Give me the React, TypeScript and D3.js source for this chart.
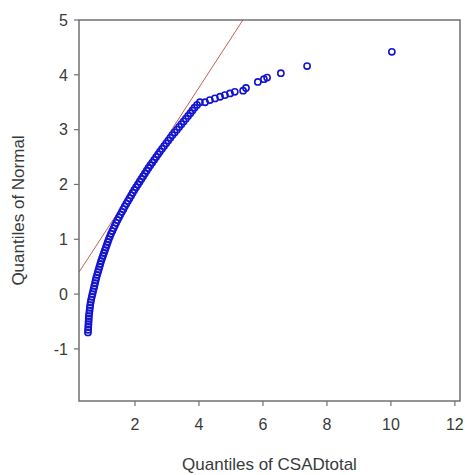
import React from "react";
import * as d3 from "d3";

// Quantiles of Normal (y) vs quantiles of CSADtotal (x)
const qNormal: number[] = [
  -0.7, -0.65, -0.6, -0.55, -0.5, -0.45, -0.4, -0.35, -0.3, -0.25, -0.2, -0.15, -0.1, -0.05,
  0.0, 0.05, 0.1, 0.15, 0.2, 0.25, 0.3, 0.35, 0.4, 0.45, 0.5, 0.55, 0.6, 0.65, 0.7, 0.75,
  0.8, 0.85, 0.9, 0.95, 1.0, 1.05, 1.1, 1.15, 1.2, 1.25, 1.3, 1.35, 1.4, 1.45, 1.5, 1.55,
  1.6, 1.65, 1.7, 1.75, 1.8, 1.85, 1.9, 1.95, 2.0, 2.05, 2.1, 2.15, 2.2, 2.25, 2.3, 2.35,
  2.4, 2.45, 2.5, 2.55, 2.6, 2.65, 2.7, 2.75, 2.8, 2.85, 2.9, 2.95, 3.0, 3.05, 3.1, 3.15,
  3.2, 3.25, 3.3, 3.35, 3.4, 3.45, 3.5,
  3.5, 3.54, 3.57, 3.6, 3.63, 3.66, 3.69, 3.71, 3.76, 3.87, 3.92, 3.95, 4.03, 4.16, 4.42,
];
const qCSAD: number[] = [
  0.53, 0.535, 0.54, 0.545, 0.55, 0.555, 0.56, 0.57, 0.58, 0.59, 0.6, 0.615, 0.63, 0.65,
  0.67, 0.69, 0.71, 0.73, 0.75, 0.77, 0.79, 0.815, 0.84, 0.865, 0.89, 0.915, 0.94, 0.97, 1.0, 1.03,
  1.06, 1.09, 1.12, 1.15, 1.18, 1.215, 1.25, 1.29, 1.33, 1.37, 1.41, 1.455, 1.5, 1.545, 1.59, 1.635,
  1.68, 1.73, 1.78, 1.83, 1.88, 1.93, 1.98, 2.035, 2.09, 2.145, 2.2, 2.255, 2.31, 2.365, 2.42, 2.48,
  2.54, 2.6, 2.66, 2.72, 2.78, 2.845, 2.91, 2.975, 3.04, 3.105, 3.17, 3.24, 3.31, 3.38, 3.45, 3.52,
  3.59, 3.66, 3.73, 3.795, 3.86, 3.94, 4.03,
  4.19, 4.34, 4.5, 4.66, 4.81, 4.97, 5.12, 5.38, 5.47, 5.84, 6.03, 6.13, 6.56, 7.38, 10.03,
];

// Reference line (qqline): intercept and slope
const lineIntercept = 0.175;
const lineSlope = 0.898;

const xTicks: number[] = [2, 4, 6, 8, 10, 12];
const yTicks: number[] = [-1, 0, 1, 2, 3, 4, 5];
const xLabel = "Quantiles of CSADtotal";
const yLabel = "Quantiles of Normal";

export default function App() {
  const W = 465;
  const H = 475;
  const left = 79, right = 460, top = 20, bottom = 401;
  const x = d3.scaleLinear().domain([0.25, 12.16]).range([left, right]);
  const y = d3.scaleLinear().domain([-1.95, 5]).range([bottom, top]);
  const [x0, x1] = x.domain();
  const lineGen = d3
    .line<number>()
    .x((d) => x(d))
    .y((d) => y(lineIntercept + lineSlope * d));
  const axisColor = "#707070";
  const textColor = "#3a3a3a";
  const font = "'Liberation Sans', Arial, sans-serif";
  return (
    <svg
      width={W}
      height={H}
      style={{ position: "absolute", left: 0, top: 0, background: "#fff", display: "block" }}
    >
      <defs>
        <clipPath id="plotClip">
          <rect x={left} y={top} width={right - left} height={bottom - top} />
        </clipPath>
      </defs>
      <rect x={0} y={0} width={W} height={H} fill="#fff" />
      <g clipPath="url(#plotClip)">
        <path d={lineGen([x0, x1]) || ""} fill="none" stroke="#c0605a" strokeWidth={1} />
        {qCSAD.map((v, i) => (
          <circle
            key={i}
            cx={x(v)}
            cy={y(qNormal[i])}
            r={3.1}
            fill="none"
            stroke="#1414d0"
            strokeWidth={1.6}
          />
        ))}
      </g>
      <rect
        x={left}
        y={top}
        width={right - left}
        height={bottom - top}
        fill="none"
        stroke={axisColor}
        strokeWidth={1.5}
      />
      {xTicks.map((t) => (
        <g key={"x" + t}>
          <line x1={x(t)} x2={x(t)} y1={bottom} y2={bottom + 5} stroke={axisColor} strokeWidth={1.2} />
          <text
            x={x(t)}
            y={bottom + 29}
            textAnchor="middle"
            fontFamily={font}
            fontSize={16}
            fill={textColor}
          >
            {t}
          </text>
        </g>
      ))}
      {yTicks.map((t) => (
        <g key={"y" + t}>
          <line x1={left - 5} x2={left} y1={y(t)} y2={y(t)} stroke={axisColor} strokeWidth={1.2} />
          <text
            x={left - 11}
            y={y(t)}
            dy="0.36em"
            textAnchor="end"
            fontFamily={font}
            fontSize={16}
            fill={textColor}
          >
            {t}
          </text>
        </g>
      ))}
      <text
        x={(left + right) / 2}
        y={470}
        textAnchor="middle"
        fontFamily={font}
        fontSize={17}
        fill={textColor}
      >
        {xLabel}
      </text>
      <text
        transform={`translate(24, ${(top + bottom) / 2}) rotate(-90)`}
        textAnchor="middle"
        fontFamily={font}
        fontSize={17}
        fill={textColor}
      >
        {yLabel}
      </text>
    </svg>
  );
}
